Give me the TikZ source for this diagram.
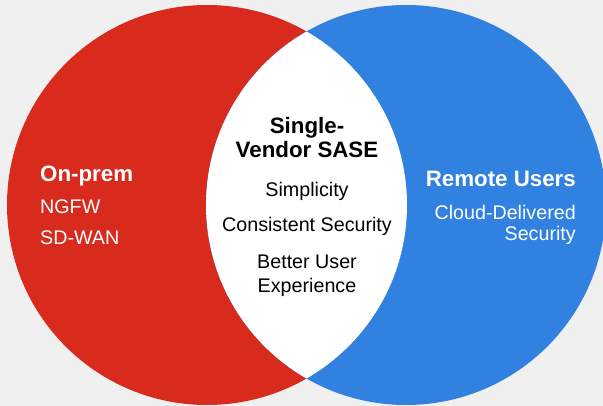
\documentclass[tikz,border=0pt]{standalone}
\usepackage{fontspec}
\setmainfont{Liberation Sans}
\usepackage{tikz}
\definecolor{premred}{RGB}{217,42,30}
\definecolor{remoteblue}{RGB}{49,129,225}
\definecolor{pagegrey}{RGB}{240,240,240}

\begin{document}
\begin{tikzpicture}[x=1pt, y=-1pt,
  Heading/.style={font=\fontsize{22.3}{25}\selectfont\bfseries, inner sep=0, anchor=base},
  Item/.style={font=\fontsize{19.7}{23}\selectfont, inner sep=0, anchor=base}]

\useasboundingbox (0,0) rectangle (603,406);
\fill [pagegrey] (0,0) rectangle (603,406);
\clip (0,0) rectangle (603,406);

\fill [premred] (207,205) circle [radius=200pt];
\fill [remoteblue] (406,205) circle [radius=200pt];
\begin{scope}
  \clip (207,205) circle [radius=200pt];
  \fill [white] (406,205) circle [radius=200pt];
\end{scope}

% overlap
\node [Heading] (single) at (307,134) {Single-};
\node [Heading] (vendor) at (307,158) {Vendor SASE};
\foreach \pos/\name/\txt in {197/simplicity/Simplicity, 232/consistent/Consistent Security, 269/better/Better User, 293/experience/Experience} {
  \node [Item] (\name) at (307,\pos) {\txt};
}

% left circle
\node [Heading, anchor=base west, white] (onprem) at (40,182) {On-prem};
\node [Item, anchor=base west, white] (ngfw) at (40,214) {NGFW};
\node [Item, anchor=base west, white] (sdwan) at (40,245) {SD-WAN};

% right circle
\node [Heading, anchor=base east, white] (remote) at (576,187) {Remote Users};
\node [Item, anchor=base east, white] (cloud) at (576,220) {Cloud-Delivered};
\node [Item, anchor=base east, white] (security) at (576,241) {Security};
\end{tikzpicture}
\end{document}
